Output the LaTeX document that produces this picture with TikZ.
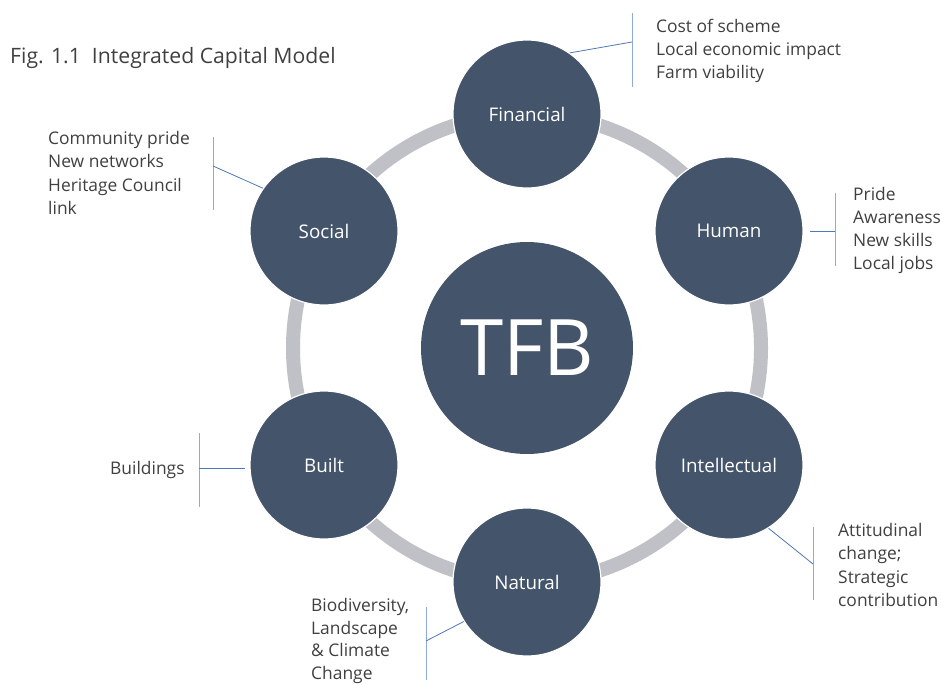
\documentclass[tikz,border=0pt]{standalone}
\usepackage{fontspec}
\setmainfont{Open Sans}
\definecolor{nodefill}{HTML}{44546A}
\definecolor{ringgray}{HTML}{BFC1C6}
\definecolor{brk}{HTML}{8FAADC}
\definecolor{con}{HTML}{4F78B8}
\definecolor{txt}{HTML}{404040}
\begin{document}
\begin{tikzpicture}[x=1pt,y=-1pt,
  capnode/.style={circle,fill=nodefill,draw=white,line width=1.2pt,minimum size=148pt,inner sep=0pt,text=white,font=\fontsize{18.8}{18.8}\selectfont},
  note/.style={anchor=west,align=left,text=txt,inner sep=0pt,font=\fontsize{17.4}{23.3}\selectfont},
  bracket/.style={draw=brk,line width=0.9pt},
  link/.style={draw=con,line width=0.8pt}]
\useasboundingbox (0,0) rectangle (942,685);
\node[anchor=west,text=txt,inner sep=0pt,font=\fontsize{21.2}{21.2}\selectfont] (title) at (10,58) {Fig. 1.1\ \ Integrated Capital Model};
\draw[ringgray,line width=14pt] (527,348) circle (234);
\node[circle,fill=nodefill,minimum size=212pt,inner sep=0pt,text=white,font=\fontsize{78}{78}\selectfont] (tfb) at (527,348) {TFB};
\node[capnode] (fin) at (527,114) {Financial};
\node[capnode] (hum) at (729,231) {Human};
\node[capnode] (int) at (729,465) {Intellectual};
\node[capnode] (nat) at (527,582) {Natural};
\node[capnode] (bui) at (324,465) {Built};
\node[capnode] (soc) at (324,231) {Social};
% notes
\node[note] (nfin) at (656,51) {Cost of scheme\\Local economic impact\\Farm viability};
\node[note] (nsoc) at (48,173) {Community pride\\New networks\\Heritage Council\\link};
\node[note] (nhum) at (853,230.5) {Pride\\Awareness\\New skills\\Local jobs};
\node[note] (nint) at (838,565) {Attitudinal\\change;\\Strategic\\contribution};
\node[note] (nbui) at (110,470) {Buildings};
\node[note,font=\fontsize{17.4}{22.6}\selectfont] (nnat) at (311,641) {Biodiversity,\\Landscape\\\& Climate\\Change};
% brackets
\coordinate (bf1) at (632,13); \coordinate (bf2) at (632,87); \coordinate (bfm) at (632,42);
\draw[bracket] (bf1) -- (bf2);
\draw[link] (bfm) -- (fin.55);
\coordinate (bs1) at (213,137); \coordinate (bs2) at (213,210); \coordinate (bsm) at (213,166);
\draw[bracket] (bs1) -- (bs2);
\draw[link] (bsm) -- (soc.145);
\coordinate (bh1) at (835,193); \coordinate (bh2) at (835,266); \coordinate (bhm) at (835,231);
\draw[bracket] (bh1) -- (bh2);
\draw[link] (bhm) -- ([xshift=6pt]hum.east);
\coordinate (bi1) at (813,527); \coordinate (bi2) at (813,600); \coordinate (bim) at (813,564);
\draw[bracket] (bi1) -- (bi2);
\draw[link] (bim) -- (int.-58);
\coordinate (bb1) at (199,433); \coordinate (bb2) at (199,507); \coordinate (bbm) at (199,468);
\draw[bracket] (bb1) -- (bb2);
\draw[link] (bbm) -- ([xshift=-4pt]bui.west |- bbm);
\coordinate (bn1) at (426,607); \coordinate (bn2) at (426,680); \coordinate (bnm) at (426,641);
\draw[bracket] (bn1) -- (bn2);
\draw[link] (bnm) -- (nat.-148);
\end{tikzpicture}
\end{document}
